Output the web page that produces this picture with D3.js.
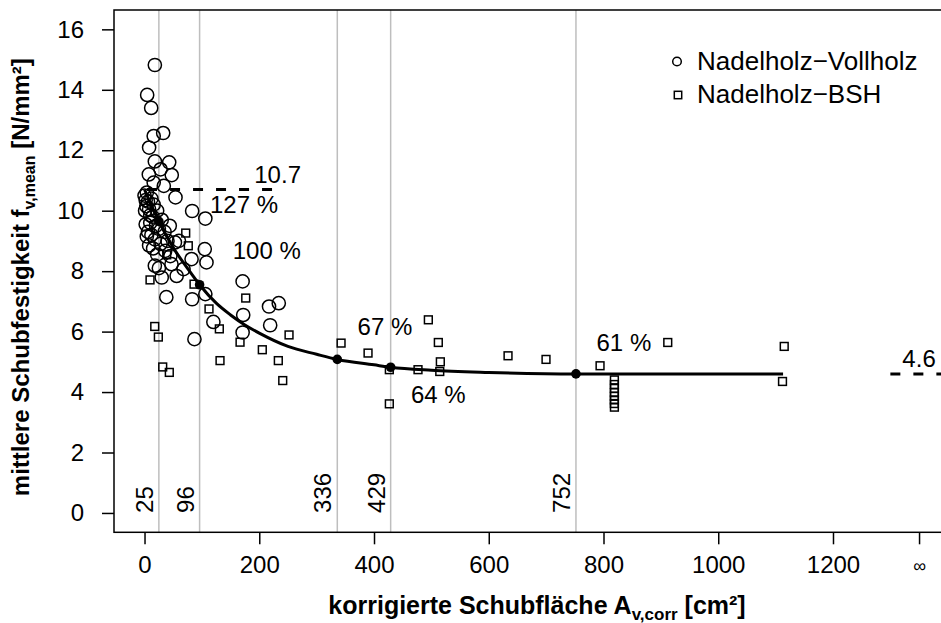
<!DOCTYPE html>
<html>
<head>
<meta charset="utf-8">
<script src="https://cdn.jsdelivr.net/npm/d3@7"></script>
<style>
  html, body { margin: 0; padding: 0; background: #fff; }
  svg { display: block; font-family: "Liberation Sans", Arial, Helvetica, sans-serif; }
</style>
</head>
<body>
<svg id="chart" width="941" height="623"></svg>
<script>
// Shear strength of softwood specimens vs. corrected shear area

// Solid softwood (Nadelholz-Vollholz): [A_v,corr in cm², f_v in N/mm²]
const vollholz = [
  [18, 14.82], [4.6, 13.83], [11.6, 13.40], [32.5, 12.57], [16, 12.47], [8, 12.09],
  [18, 11.63], [43, 11.60], [7.5, 11.20], [47.5, 11.18], [28, 11.37], [33.6, 10.82],
  [16, 10.93], [54, 10.44], [83, 9.99], [106, 9.74],
  [0, 10.50], [2, 10.35], [3, 10.15], [1, 10.00], [4, 10.60], [6, 10.30], [8, 10.05],
  [10, 9.85], [12, 10.40], [2, 9.55], [6, 9.30], [10, 9.60], [14, 9.80], [16, 10.20],
  [20, 9.50], [22, 10.00], [4, 9.15], [12, 9.20], [18, 9.05], [25, 9.40], [30, 9.70],
  [35, 9.30], [40, 9.00], [8, 8.85], [15, 8.75], [22, 8.55], [28, 8.90], [44, 9.50],
  [53, 8.95], [36, 8.67], [60, 9.00], [45, 8.50],
  [105, 8.73], [18, 8.18], [47, 8.23], [82, 8.40], [108, 8.29], [56, 7.84], [30, 7.79],
  [68, 8.07], [25, 8.10], [38, 7.14], [83, 7.07], [106, 7.24], [171, 7.66], [217, 6.83],
  [234, 6.94], [172, 6.55], [120, 6.32], [219, 6.21], [171, 5.97], [87, 5.75]
];

// Glued laminated softwood (Nadelholz-BSH)
const bsh = [
  [9.6, 7.71], [71.8, 9.26], [76.3, 8.84], [86.3, 7.57], [38.7, 8.54], [176.4, 7.11],
  [112.4, 6.75], [130.4, 6.09], [17.8, 6.17], [24.1, 5.82], [166.5, 5.65], [251.9, 5.89],
  [205.3, 5.40], [131.6, 5.04], [233.2, 5.04], [240.9, 4.38], [31.7, 4.83], [43.2, 4.65],
  [342.6, 5.62], [389.6, 5.29], [426.7, 4.74], [426.7, 3.61], [476.7, 4.74], [494.7, 6.39],
  [512.1, 5.64], [515.6, 5.00], [514.6, 4.68], [633.6, 5.20], [699.8, 5.08], [794, 4.87],
  [912, 5.64], [1115, 5.51], [1112, 4.35],
  [819, 4.40], [819, 4.25], [819, 4.12], [819, 3.98], [819, 3.86], [819, 3.74], [819, 3.62], [819, 3.50]
];

// Fitted size-effect curve
const fitA = [0, 10, 25, 50, 75, 96, 125, 150, 175, 200, 250, 300, 336, 400, 429, 500, 600, 752, 900, 1000, 1113];
const fitF = [10.70, 10.26, 9.65, 8.78, 8.09, 7.55, 6.94, 6.55, 6.22, 5.95, 5.51, 5.25, 5.08, 4.90, 4.82, 4.72, 4.65, 4.60, 4.60, 4.60, 4.60];

// Reference areas marked on the curve
const refA = [25, 96, 336, 429, 752];
const refF = [9.65, 7.55, 5.08, 4.82, 4.60];
const refPct = ["127 %", "100 %", "67 %", "64 %", "61 %"];

// Limits of the curve
const fZero = 10.7;
const fInf = 4.6;
const infPos = 1350;

// Axis ticks
const xTickValues = [0, 200, 400, 600, 800, 1000, 1200, infPos];
const xTickLabels = ["0", "200", "400", "600", "800", "1000", "1200", "\u221E"];
const yTickValues = [0, 2, 4, 6, 8, 10, 12, 14, 16];

const legendLabels = ["Nadelholz\u2212Vollholz", "Nadelholz\u2212BSH"];

// ---- layout ----
const svg = d3.select("#chart");
const plot = { left: 114, top: 10, right: 942, bottom: 532.3 };
const x = d3.scaleLinear().domain([-53.2, 1390]).range([plot.left, plot.right]);
const y = d3.scaleLinear().domain([-0.64, 16.64]).range([plot.bottom, plot.top]);
const FS = 24;

svg.append("defs").append("clipPath").attr("id", "plotClip")
  .append("rect").attr("x", plot.left).attr("y", plot.top)
  .attr("width", plot.right - plot.left).attr("height", plot.bottom - plot.top);

const inner = svg.append("g").attr("clip-path", "url(#plotClip)");

// vertical reference lines
inner.selectAll("line.ref").data(refA).join("line")
  .attr("class", "ref")
  .attr("x1", d => x(d)).attr("x2", d => x(d))
  .attr("y1", plot.top).attr("y2", plot.bottom)
  .attr("stroke", "#bebebe").attr("stroke-width", 1.5);

// rotated area labels next to the reference lines
inner.selectAll("text.refLab").data(refA).join("text")
  .attr("class", "refLab")
  .attr("transform", d => `translate(${x(d) - 6},${y(0)}) rotate(-90)`)
  .attr("text-anchor", "start")
  .attr("font-size", FS)
  .text(d => d);

// dashed asymptote markers
const dash = "10,13";
inner.append("line")
  .attr("x1", x(4.4)).attr("x2", x(228))
  .attr("y1", y(fZero)).attr("y2", y(fZero))
  .attr("stroke", "#000").attr("stroke-width", 3).attr("stroke-dasharray", dash);
inner.append("line")
  .attr("x1", x(1300)).attr("x2", x(1420))
  .attr("y1", y(fInf)).attr("y2", y(fInf))
  .attr("stroke", "#000").attr("stroke-width", 3).attr("stroke-dasharray", dash);

inner.append("text")
  .attr("x", x(232)).attr("y", y(fZero) - 7)
  .attr("text-anchor", "middle").attr("font-size", FS)
  .text(fZero.toFixed(1));
inner.append("text")
  .attr("x", x(infPos)).attr("y", y(fInf) - 7)
  .attr("text-anchor", "middle").attr("font-size", FS)
  .text(fInf.toFixed(1));

// data points
inner.selectAll("circle.vh").data(vollholz).join("circle")
  .attr("class", "vh")
  .attr("cx", d => x(d[0])).attr("cy", d => y(d[1]))
  .attr("r", 6.6)
  .attr("fill", "none").attr("stroke", "#000").attr("stroke-width", 1.5);

const sq = 7.8;
inner.selectAll("rect.bsh").data(bsh).join("rect")
  .attr("class", "bsh")
  .attr("x", d => x(d[0]) - sq / 2).attr("y", d => y(d[1]) - sq / 2)
  .attr("width", sq).attr("height", sq)
  .attr("fill", "none").attr("stroke", "#000").attr("stroke-width", 1.5);

// fitted curve
const fitPts = fitA.map((a, i) => [a, fitF[i]]);
inner.append("path")
  .datum(fitPts)
  .attr("d", d3.line().x(d => x(d[0])).y(d => y(d[1])).curve(d3.curveMonotoneX))
  .attr("fill", "none").attr("stroke", "#000").attr("stroke-width", 3);

// reference points on the curve
inner.selectAll("circle.refDot").data(refA).join("circle")
  .attr("class", "refDot")
  .attr("cx", d => x(d)).attr("cy", (d, i) => y(refF[i]))
  .attr("r", 4.8).attr("fill", "#000");

// percentage labels (placement in data units)
const pctPos = [[173.4, 10.22], [213, 8.68], [419, 6.18], [512, 3.94], [835.5, 5.65]];
inner.selectAll("text.pct").data(refPct).join("text")
  .attr("class", "pct")
  .attr("x", (d, i) => x(pctPos[i][0]))
  .attr("y", (d, i) => y(pctPos[i][1]))
  .attr("dy", "0.36em")
  .attr("text-anchor", "middle").attr("font-size", FS)
  .text(d => d);

// frame
svg.append("rect")
  .attr("x", plot.left).attr("y", plot.top)
  .attr("width", plot.right - plot.left).attr("height", plot.bottom - plot.top)
  .attr("fill", "none").attr("stroke", "#000").attr("stroke-width", 1.5);

// axes
const xAxis = d3.axisBottom(x)
  .tickValues(xTickValues)
  .tickFormat((d, i) => xTickLabels[i])
  .tickSize(12).tickPadding(12);
const gx = svg.append("g").attr("transform", `translate(0,${plot.bottom})`).call(xAxis);
gx.select(".domain").remove();
gx.selectAll("line").attr("stroke", "#000").attr("stroke-width", 1.5);
gx.selectAll("text").attr("font-size", FS).attr("font-family", null).attr("fill", "#000");
gx.selectAll(".tick").filter(d => d === infPos).select("text").attr("font-size", 18).attr("dy", "0.9em");

const yAxis = d3.axisLeft(y)
  .tickValues(yTickValues)
  .tickSize(12).tickPadding(18);
const gy = svg.append("g").attr("transform", `translate(${plot.left},0)`).call(yAxis);
gy.select(".domain").remove();
gy.selectAll("line").attr("stroke", "#000").attr("stroke-width", 1.5);
gy.selectAll("text").attr("font-size", FS).attr("font-family", null).attr("fill", "#000");

// axis titles
const xt = svg.append("text")
  .attr("x", 537).attr("y", 614)
  .attr("text-anchor", "middle").attr("font-size", 25).attr("font-weight", "bold");
xt.append("tspan").text("korrigierte Schubfl\u00e4che A");
xt.append("tspan").attr("font-size", 17).attr("dy", 6).text("v,corr");
xt.append("tspan").attr("dy", -6).text(" [cm\u00b2]");

const yt = svg.append("text")
  .attr("transform", `translate(29,${(plot.top + plot.bottom) / 2 + 6}) rotate(-90)`)
  .attr("text-anchor", "middle").attr("font-size", FS).attr("font-weight", "bold");
yt.append("tspan").text("mittlere Schubfestigkeit f");
yt.append("tspan").attr("font-size", 16).attr("dy", 6).text("v,mean");
yt.append("tspan").attr("dy", -6).text(" [N/mm\u00b2]");

// legend
const lg = svg.append("g");
lg.append("circle").attr("cx", 677).attr("cy", 61.5).attr("r", 4.3)
  .attr("fill", "none").attr("stroke", "#000").attr("stroke-width", 1.5);
lg.append("rect").attr("x", 678 - 3.7).attr("y", 95 - 3.7).attr("width", 7.4).attr("height", 7.4)
  .attr("fill", "none").attr("stroke", "#000").attr("stroke-width", 1.5);
lg.selectAll("text").data(legendLabels).join("text")
  .attr("x", 697).attr("y", (d, i) => 70 + i * 33.4)
  .attr("font-size", 26)
  .text(d => d);
</script>
</body>
</html>
